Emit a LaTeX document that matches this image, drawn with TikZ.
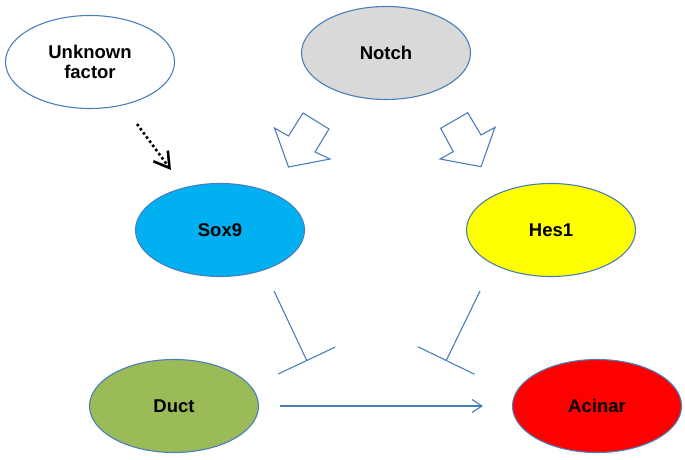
\documentclass[tikz,border=0pt]{standalone}
\usepackage{fontspec}
\setmainfont{Liberation Sans}
\usetikzlibrary{shapes.geometric,arrows.meta}
\definecolor{edgeblue}{HTML}{4A7EBB}
\definecolor{notchgray}{HTML}{D9D9D9}
\definecolor{soxblue}{HTML}{00B0F0}
\definecolor{hesyellow}{HTML}{FFFF00}
\definecolor{ductgreen}{HTML}{9BBB59}
\definecolor{acinarred}{HTML}{FF0000}
\tikzset{
  blob/.style={ellipse, draw=edgeblue, line width=1.1pt, minimum width=169bp, minimum height=93bp, inner sep=0pt,
    font=\fontsize{18.5bp}{20bp}\selectfont\bfseries, align=center, text=black},
  inhib/.style={draw=edgeblue, line width=1.1pt, -{Bar[width=63bp,line width=1.1pt]}},
  act/.style={draw=edgeblue, line width=1.1pt, -{Straight Barb[length=10bp,width=13bp,line width=1.1pt]}},
  dotarrow/.style={draw=black, line width=2.6pt, dash pattern=on 2.6pt off 2.6pt,
    -{Straight Barb[length=15bp,width=18bp,line width=2.6pt]}},
  blockarrow/.style={draw=edgeblue, line width=1.1pt, fill=white, line join=miter}
}
\begin{document}
\begin{tikzpicture}[x=1bp,y=-1bp]
\useasboundingbox (0,0) rectangle (685,460);
\node[blob, fill=white] (unk) at (90,62) {Unknown\\factor};
\node[blob, fill=notchgray] (notch) at (386,53) {Notch};
\node[blob, fill=soxblue] (sox) at (220,230) {Sox9};
\node[blob, fill=hesyellow] (hes) at (551,230) {Hes1};
\node[blob, fill=ductgreen] (duct) at (174,406) {Duct};
\node[blob, fill=acinarred] (acinar) at (597,406) {Acinar};
% block arrows Notch -> Sox9, Notch -> Hes1
\draw[blockarrow] (303,113) -- (329,129) -- (315,152) -- (330,159) -- (288.5,167) -- (274.5,128) -- (288.5,136) -- cycle;
\draw[blockarrow] (467.7,112.7) -- (481,135) -- (495,127.3) -- (481,166.7) -- (440,159) -- (453.3,151.7) -- (440.7,128.3) -- cycle;
% dotted arrow Unknown factor -> Sox9
\coordinate (ds) at (137,124);
\coordinate (de) at (171,170);
\draw[dotarrow] (ds) -- (de);
% inhibitions
\coordinate (s1) at (274,291);
\coordinate (s2) at (307,361);
\coordinate (h1) at (480,291);
\coordinate (h2) at (446,361);
\draw[inhib] (s1) -- (s2);
\draw[inhib] (h1) -- (h2);
% Duct -> Acinar
\coordinate (a1) at (280,406);
\coordinate (a2) at (483,406);
\draw[act] (a1) -- (a2);
\end{tikzpicture}
\end{document}
